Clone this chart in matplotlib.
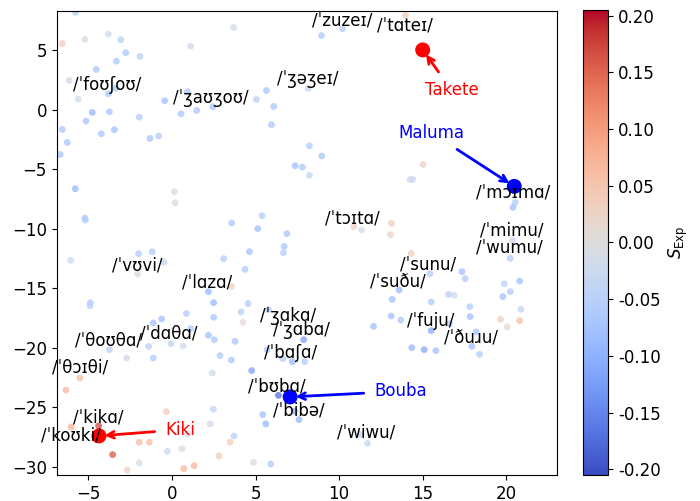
import matplotlib
matplotlib.use("Agg")
import matplotlib.pyplot as plt
import matplotlib.ticker as tck

plt.rcParams['font.family'] = ['DejaVu Sans']
plt.rcParams['font.size'] = 12

# embedding coordinates of the words and their S_Exp score
px = [-5.77, -6.57, -5.21, -3.81, -3.07, -2.77, -3.33, -4.53, -1.92, -6.15,
      -5.61, -3.37, -3.81, -4.77, -3.75, -5.15, -6.57, -6.27, -6.69, -4.23,
      -3.45, -1.96, -1.32, -0.80, -0.44, 0.54, 0.92, 1.48, 2.44, 1.12,
      3.69, 5.05, 5.65, 6.09, 5.95, 8.16, 8.22, 7.37, 7.80, 13.97,
      8.94, 10.20, 8.96, 15.03, 14.25, 14.41, 20.54, 20.40, 10.88, 11.34,
      13.13, 13.07, 20.38, 8.22, 6.87, 6.71, 6.67, 14.31, 20.24, 17.35,
      17.54, 15.43, 20.80, 19.88, 20.24, 19.80, 20.88, 13.59, 13.17, 16.55,
      16.89, 15.51, 17.82, 17.84, 13.11, 13.69, 19.66, 20.80, 20.06, 12.06,
      15.51, 16.61, 18.20, 17.94, 18.40, 14.35, 15.09, 15.79, 7.88, 6.63,
      7.20, 7.94, 7.60, 11.30, 11.70, 6.37, 5.43, 5.61, 7.33, 4.77,
      2.41, 2.47, 2.29, 3.71, 3.47, 2.80, 4.87, 5.91, -1.12, 1.12,
      2.18, 4.25, 2.53, 2.87, 3.55, -3.75, -2.71, -1.40, -1.12, -0.06,
      0.66, -5.51, -6.35, -6.03, -4.39, -3.55, -1.96, -1.36, -0.34, -0.28,
      0.60, 0.94, -1.96, -2.68, 0.70, 1.32, 5.69, -5.79, -5.21, -5.19,
      0.14, 0.18, -6.07, -2.00, -1.18, -0.48, -2.06, -4.89, -4.91, 3.57,
      5.13, 5.39, 3.09, 4.63, 4.37, 3.57, 2.18, 2.49, 2.49, 0.86,
      -0.62, 4.13, 4.55, 5.77, 3.77]
py = [8.20, 5.57, 5.91, 6.36, 5.88, 4.79, 4.09, 3.39, 4.48, 2.46,
      0.90, 1.82, 1.34, -0.23, -0.17, -0.95, -1.65, -2.75, -3.76, -2.02,
      -1.68, -0.62, -2.41, -2.21, 0.76, -0.34, 1.51, -0.06, 0.25, 5.35,
      6.92, 0.87, 1.62, 0.28, -1.26, 1.79, -3.03, -4.71, -4.82, 7.93,
      6.24, 6.80, -3.89, -4.60, -5.86, -5.86, -7.79, -8.21, -9.83, -10.11,
      -9.55, -10.50, -10.98, -5.52, -10.42, -11.49, -12.02, -12.07, -12.49, -13.61,
      -14.20, -13.78, -14.40, -14.62, -15.29, -15.71, -16.78, -15.15, -15.94, -15.52,
      -15.60, -16.16, -16.55, -17.39, -17.34, -17.68, -17.62, -17.73, -18.26, -18.21,
      -18.57, -17.98, -18.68, -19.89, -20.56, -20.00, -20.17, -20.25, -19.33, -20.92,
      -21.18, -21.18, -26.05, -27.30, -28.04, -24.01, -25.63, -26.41, -25.35, -21.93,
      -22.13, -25.18, -26.41, -27.42, -27.95, -29.10, -29.64, -29.78, -17.93, -18.40,
      -18.96, -17.87, -19.33, -20.67, -21.04, -20.17, -20.87, -19.89, -20.87, -19.66,
      -19.86, -22.55, -23.56, -26.67, -26.58, -28.99, -27.95, -27.95, -25.38, -28.71,
      -28.49, -27.26, -29.69, -30.28, -30.17, -29.92, -20.17, -6.64, -9.10, -9.27,
      -6.89, -7.82, -12.66, -12.10, -11.93, -12.83, -13.81, -16.22, -16.47, -9.52,
      -10.00, -8.91, -12.52, -11.93, -13.42, -14.85, -15.29, -16.22, -17.45, -17.12,
      -17.59, -17.00, -16.30, -16.81, -19.47]
s_exp = [-0.06, 0.04, -0.01, -0.02, -0.05, -0.07, -0.07, -0.07, -0.05, -0.02,
         -0.02, -0.07, -0.07, -0.09, -0.07, -0.07, -0.07, -0.07, -0.07, -0.07,
         -0.08, -0.06, -0.07, -0.06, -0.08, -0.07, -0.07, -0.07, -0.07, -0.02,
         -0.02, -0.05, -0.07, -0.07, -0.07, -0.03, -0.06, -0.08, -0.07, 0.04,
         -0.06, -0.06, -0.07, 0.03, -0.03, -0.03, -0.06, -0.08, 0.03, -0.01,
         0.03, 0.03, -0.03, -0.04, -0.07, -0.07, -0.06, 0.04, -0.06, -0.08,
         -0.06, -0.06, -0.08, -0.05, -0.06, -0.08, -0.04, -0.09, -0.08, -0.05,
         -0.02, -0.06, -0.06, -0.08, -0.08, -0.07, 0.03, 0.06, 0.01, -0.08,
         -0.11, -0.05, -0.08, -0.08, -0.06, -0.09, -0.11, -0.08, -0.12, -0.06,
         -0.09, -0.06, -0.09, -0.03, -0.04, -0.17, -0.08, -0.09, -0.10, -0.12,
         -0.02, -0.04, -0.02, -0.05, 0.04, 0.04, -0.01, -0.06, -0.08, -0.06,
         -0.08, 0.01, -0.07, -0.06, -0.07, -0.05, -0.02, -0.05, -0.06, -0.04,
         -0.02, 0.06, 0.07, 0.08, 0.17, 0.16, 0.06, 0.06, 0.04, -0.03,
         -0.01, -0.01, -0.01, 0.03, 0.07, 0.07, -0.06, -0.09, -0.06, -0.06,
         -0.01, -0.01, -0.03, -0.06, -0.06, -0.04, -0.01, -0.06, -0.05, -0.07,
         -0.08, -0.06, -0.06, -0.08, -0.06, 0.03, -0.09, -0.09, -0.07, -0.06,
         -0.08, -0.05, -0.06, -0.06, -0.07]

# labelled words: text, left x, centre y
words = ['/ˈzuzeɪ/', '/ˈtɑteɪ/', '/ˈfoʊʃoʊ/', '/ˈʒaʊʒoʊ/', '/ˈʒəʒeɪ/',
         '/ˈmɔɪmɑ/', '/ˈtɔɪtɑ/', '/ˈmimu/', '/ˈwumu/', '/ˈsunu/', '/ˈsuðu/',
         '/ˈfuju/', '/ˈðuɹu/', '/ˈvʊvi/', '/ˈlɑzɑ/', '/ˈʒɑkɑ/', '/ˈʒɑbɑ/',
         '/ˈbɑʃɑ/', '/ˈbʊbɑ/', '/ˈbibə/', '/ˈwiwu/', '/ˈθoʊθɑ/', '/ˈdɑθɑ/',
         '/ˈθɔɪθi/', '/ˈkikɑ/', '/ˈkoʊki/']
wx = [8.37, 12.26, -5.95, 0.08, 6.27, 18.2, 9.16, 18.44, 18.18, 13.65, 11.86,
      14.05, 16.25, -3.61, 0.6, 5.27, 6.07, 5.51, 4.53, 6.03, 9.9, -5.81, -1.92,
      -7.2, -5.91, -7.86]
wy = [7.48, 7.06, 2.1, 1.03, 2.58, -6.95, -9.1, -10.17, -11.62, -13.05, -14.43,
      -17.79, -19.13, -13.11, -14.51, -17.37, -18.55, -20.45, -23.25, -25.27,
      -27.17, -19.39, -18.82, -21.7, -25.9, -27.39]

# the four classic stimuli
names = ['Takete', 'Maluma', 'Bouba', 'Kiki']
nx = [15.0, 20.48, 7.07, -4.37]
ny = [5.03, -6.44, -24.14, -27.42]
name_x = [16.75, 15.55, 13.71, 0.52]
name_y = [1.62, -1.96, -23.67, -26.89]
name_col = ['red', 'blue', 'blue', 'red']

fig = plt.figure(figsize=(7, 5.01), dpi=100)
ax = fig.add_axes([0.081, 0.052, 0.715, 0.926])
cax = fig.add_axes([0.833, 0.052, 0.036, 0.928])

sc = ax.scatter(px, py, c=s_exp, cmap='coolwarm', vmin=-0.205, vmax=0.205,
                s=24, edgecolors='none', alpha=0.75)
ax.scatter(nx, ny, c=name_col, s=95, zorder=3)

for t, x, y in zip(words, wx, wy):
    ax.text(x, y, t, ha='left', va='center', fontsize=12, clip_on=False)

for n, x0, y0, tx, ty, col in zip(names, nx, ny, name_x, name_y, name_col):
    ax.annotate(n, xy=(x0, y0), xytext=(tx, ty), color=col, fontsize=12,
                ha='center', va='center',
                arrowprops=dict(arrowstyle='->', color=col, lw=2,
                                shrinkA=6, shrinkB=4))

ax.set_xlim(-6.9, 23.05)
ax.set_ylim(-30.7, 8.3)
ax.xaxis.set_major_locator(tck.MultipleLocator(5))
ax.yaxis.set_major_locator(tck.MultipleLocator(5))

cb = fig.colorbar(sc, cax=cax)
cb.solids.set_alpha(1)
cb.set_ticks([-0.2, -0.15, -0.1, -0.05, 0, 0.05, 0.1, 0.15, 0.2])
cb.ax.yaxis.set_major_formatter(tck.FormatStrFormatter('%.2f'))
cb.set_label(r'$S_{\rm Exp}$')

fig.savefig('out.png', dpi=100)
